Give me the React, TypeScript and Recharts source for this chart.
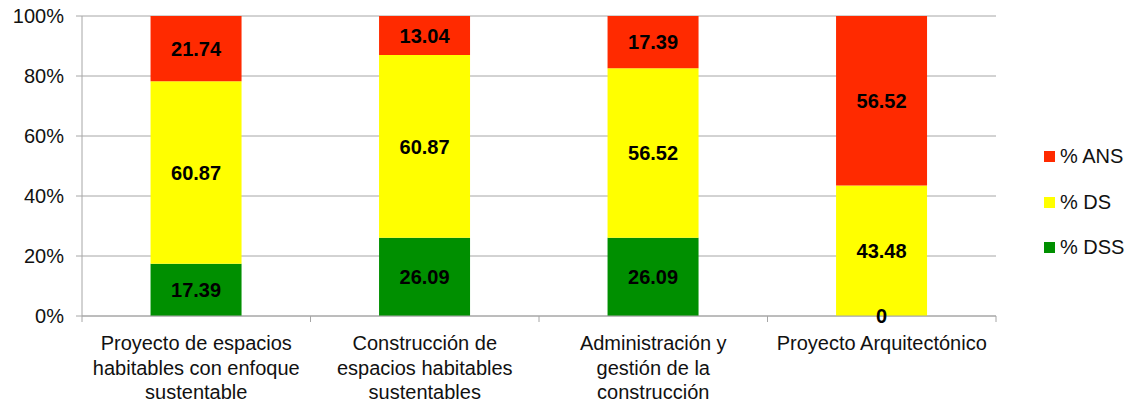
import React from 'react';
import { BarChart, Bar, XAxis, YAxis, CartesianGrid, LabelList, Rectangle } from 'recharts';

const categories = [
  'Proyecto de espacios\nhabitables con enfoque\nsustentable',
  'Construcción de\nespacios habitables\nsustentables',
  'Administración y\ngestión de la\nconstrucción',
  'Proyecto Arquitectónico',
];
const dss = [17.39, 26.09, 26.09, 0];
const ds = [60.87, 60.87, 56.52, 43.48];
const ans = [21.74, 13.04, 17.39, 56.52];
const yTicks = [0, 20, 40, 60, 80, 100];

const series = [
  { key: 'ans', name: '% ANS', color: '#ff2a00' },
  { key: 'ds', name: '% DS', color: '#ffff00' },
  { key: 'dss', name: '% DSS', color: '#008f00' },
];

const data = categories.map((name, i) => ({ name, dss: dss[i], ds: ds[i], ans: ans[i] }));

const FONT = 'Liberation Sans, Arial, Helvetica, sans-serif';
const W = 1131;
const H = 404;
const LEFT = 82;
const RIGHT = 135;
const BAND = (W - LEFT - RIGHT) / categories.length;
const AXIS = '#a6a6a6';

const CategoryTick = (props: any) => {
  const { x, y, payload, index } = props;
  const lines = String(payload.value).split('\n');
  return (
    <g>
      <line x1={x - BAND / 2} x2={x - BAND / 2} y1={y} y2={y + 6} stroke={AXIS} />
      {index === categories.length - 1 && (
        <line x1={x + BAND / 2} x2={x + BAND / 2} y1={y} y2={y + 6} stroke={AXIS} />
      )}
      <text textAnchor="middle" fontFamily={FONT} fontSize={20} fill="#111">
        {lines.map((l, i) => (
          <tspan key={i} x={x} y={y + 34 + i * 24.5}>{l}</tspan>
        ))}
      </text>
    </g>
  );
};

// value in the middle of its segment, also for empty (0) segments
const renderLabel = (props: any) => {
  const { x, y, width, height, value } = props;
  if (value === undefined || value === null) return null;
  return (
    <text
      x={Number(x) + Number(width) / 2}
      y={Number(y) + Number(height) / 2 + 2}
      textAnchor="middle"
      dominantBaseline="middle"
      fontFamily={FONT}
      fontSize={20}
      fontWeight={700}
      fill="#000"
    >
      {value}
    </text>
  );
};

// zero segments get a 1px placeholder (so their label is kept) but are not painted
const SegmentShape = (props: any) => (Math.abs(props.height) > 1.5 ? <Rectangle {...props} /> : null);

export default function App() {
  return (
    <div style={{ position: 'absolute', left: 0, top: 0, width: W, height: H, background: '#fff' }}>
      <BarChart
        width={W}
        height={H}
        data={data}
        margin={{ top: 16, right: RIGHT, bottom: 0, left: 0 }}
        barCategoryGap="30%"
      >
        <CartesianGrid vertical={false} stroke={AXIS} />
        <XAxis
          dataKey="name"
          height={88}
          tick={<CategoryTick />}
          tickLine={false}
          tickSize={0}
          tickMargin={0}
          stroke={AXIS}
          interval={0}
        />
        <YAxis
          width={LEFT}
          domain={[0, 100]}
          ticks={yTicks}
          tickFormatter={(v: number) => `${v}%`}
          tick={{ fontFamily: FONT, fontSize: 20, fill: '#111' }}
          tickSize={6}
          tickMargin={12}
          stroke={AXIS}
          allowDataOverflow
        />
        <Bar
          dataKey="dss"
          name="% DSS"
          stackId="a"
          fill="#008f00"
          minPointSize={1}
          shape={SegmentShape}
          isAnimationActive={false}
        >
          <LabelList dataKey="dss" content={renderLabel} />
        </Bar>
        <Bar dataKey="ds" name="% DS" stackId="a" fill="#ffff00" isAnimationActive={false}>
          <LabelList dataKey="ds" content={renderLabel} />
        </Bar>
        <Bar dataKey="ans" name="% ANS" stackId="a" fill="#ff2a00" isAnimationActive={false}>
          <LabelList dataKey="ans" content={renderLabel} />
        </Bar>
      </BarChart>
      <div style={{ position: 'absolute', left: 1044, top: 134, fontFamily: FONT, fontSize: 20, color: '#111' }}>
        {series.map((s) => (
          <div key={s.key} style={{ display: 'flex', alignItems: 'center', height: 45.5 }}>
            <span style={{ width: 11, height: 11, background: s.color, marginRight: 5, display: 'inline-block' }} />
            <span>{s.name}</span>
          </div>
        ))}
      </div>
    </div>
  );
}
